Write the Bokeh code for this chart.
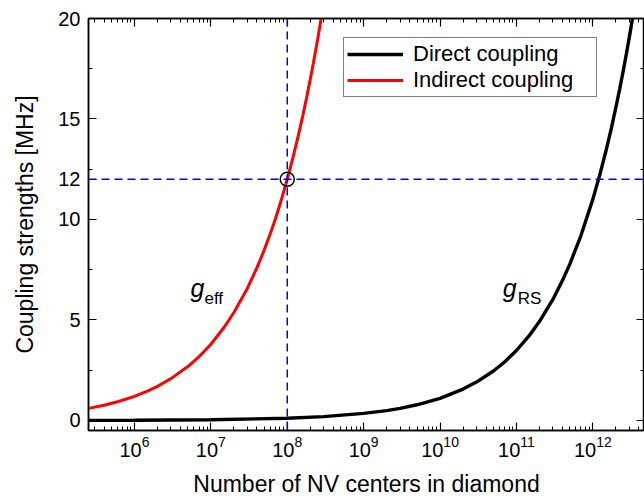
from bokeh.plotting import figure
from bokeh.models import (FixedTicker, LogAxis, LinearAxis, Span, Label, Legend, Range1d)
from bokeh.embed import file_html
from bokeh.resources import INLINE

# Direct coupling g_RS (black)
direct_n = [2.5e5, 1e6, 1e7, 1e8, 3e8, 1e9, 2e9, 3e9, 5e9, 1e10, 2e10, 3e10, 5e10, 7e10,
            1e11, 1.5e11, 2e11, 3e11, 4e11, 5e11, 7e11, 1e12, 1.25e12, 1.5e12, 1.75e12,
            2e12, 2.25e12, 2.5e12, 2.75e12, 3e12, 3.2e12, 3.4e12]
direct_g = [0.0055, 0.011, 0.035, 0.11, 0.19, 0.35, 0.49, 0.60, 0.78, 1.10, 1.56, 1.91, 2.46, 2.91,
            3.48, 4.26, 4.92, 6.02, 6.96, 7.78, 9.20, 11.0, 12.30, 13.47, 14.55,
            15.56, 16.50, 17.39, 18.24, 19.05, 19.68, 20.28]

# Indirect coupling g_eff (red)
indirect_n = [2.5e5, 4e5, 6e5, 1e6, 1.5e6, 2e6, 3e6, 5e6, 7e6, 1e7, 1.5e7, 2e7, 3e7, 4e7,
              5e7, 6e7, 7e7, 8e7, 1e8, 1.2e8, 1.4e8, 1.6e8, 1.8e8, 2e8, 2.2e8, 2.5e8, 2.8e8]
indirect_g = [0.60, 0.76, 0.93, 1.20, 1.47, 1.70, 2.08, 2.68, 3.17, 3.79, 4.65, 5.37, 6.57, 7.59,
              8.49, 9.30, 10.04, 10.73, 12.0, 13.15, 14.20, 15.18, 16.10, 16.97, 17.80, 18.97, 20.08]

# Marked operating point
point_n = [1e8]
point_g = [12.0]

y_ticks = [0, 5, 10, 12, 15, 20]
y_minor = [2.5, 7.5, 12.5, 17.5]

FONT = "Liberation Sans"

p = figure(width=644, height=500, x_axis_type="log",
           x_range=Range1d(2.5e5, 4.75e12), y_range=Range1d(-0.5, 20),
           output_backend="svg", toolbar_location=None,
           min_border_left=88, min_border_right=0, min_border_top=18, min_border_bottom=70)
p.xgrid.visible = False
p.ygrid.visible = False
p.outline_line_color = "black"
p.outline_line_width = 1.5
p.background_fill_color = "white"
p.border_fill_color = "white"

xt = FixedTicker(ticks=[10.0 ** k for k in range(5, 14)],
                 minor_ticks=[m * 10.0 ** k for k in range(5, 13) for m in range(2, 10)])
yt = FixedTicker(ticks=y_ticks, minor_ticks=y_minor)

def style_axis(ax):
    ax.axis_line_color = "black"
    ax.axis_line_width = 1.5
    ax.major_tick_in = 8
    ax.major_tick_out = 0
    ax.minor_tick_in = 4
    ax.minor_tick_out = 0
    ax.major_tick_line_width = 1.2
    ax.minor_tick_line_width = 1
    ax.major_tick_line_color = "black"
    ax.minor_tick_line_color = "black"

xa = p.xaxis[0]
xa.ticker = xt
style_axis(xa)
xa.major_label_text_font = FONT
xa.major_label_text_font_size = "20px"
xa.major_label_text_color = "black"
xa.major_label_standoff = 5
xa.axis_label = "Number of NV centers in diamond"
xa.axis_label_text_font = FONT
xa.axis_label_text_font_size = "23px"
xa.axis_label_text_font_style = "normal"
xa.axis_label_text_color = "black"
xa.axis_label_standoff = 11

ya = p.yaxis[0]
ya.ticker = yt
style_axis(ya)
ya.major_label_text_font = FONT
ya.major_label_text_font_size = "20px"
ya.major_label_text_color = "black"
ya.major_label_standoff = 8
ya.axis_label = "Coupling strengths [MHz]"
ya.axis_label_text_font = FONT
ya.axis_label_text_font_size = "23px"
ya.axis_label_text_font_style = "normal"
ya.axis_label_text_color = "black"
ya.axis_label_standoff = 17

top = LogAxis(ticker=xt)
style_axis(top)
top.major_label_text_font_size = "1px"
top.major_label_text_alpha = 0
top.major_label_standoff = 0
p.add_layout(top, "above")

right = LinearAxis(ticker=yt)
style_axis(right)
right.major_label_text_font_size = "1px"
right.major_label_text_alpha = 0
right.major_label_standoff = 0
p.add_layout(right, "right")

r_direct = p.line(direct_n, direct_g, line_color="black", line_width=3.4)
r_indirect = p.line(indirect_n, indirect_g, line_color="#ff0000", line_width=3)

p.add_layout(Span(location=1e8, dimension="height", line_color="#0000ff",
                  line_dash="8 5", line_width=1.5))
p.add_layout(Span(location=12, dimension="width", line_color="#0000ff",
                  line_dash="8 5", line_width=1.5))

p.scatter(point_n, point_g, marker="circle", size=14, fill_alpha=0,
          line_color="black", line_width=1.5)

# curve annotations
p.add_layout(Label(x=5.4e6, y=6.57, text="g", text_font=FONT, text_font_size="25px",
                   text_font_style="italic", text_baseline="alphabetic", text_color="black"))
p.add_layout(Label(x=5.4e6, y=6.07, text="eff", x_offset=14, text_font=FONT,
                   text_font_size="17px", text_baseline="alphabetic", text_color="black"))
p.add_layout(Label(x=6.6e10, y=6.57, text="g", text_font=FONT, text_font_size="25px",
                   text_font_style="italic", text_baseline="alphabetic", text_color="black"))
p.add_layout(Label(x=6.6e10, y=6.07, text="RS", x_offset=15, text_font=FONT,
                   text_font_size="17px", text_baseline="alphabetic", text_color="black"))

legend = Legend(items=[("Direct coupling", [r_direct]), ("Indirect coupling", [r_indirect])],
                location=(255, 333))
legend.label_text_font = FONT
legend.label_text_font_size = "22px"
legend.label_text_color = "black"
legend.glyph_width = 56
legend.glyph_height = 22
legend.label_height = 22
legend.label_width = 180
legend.label_standoff = 10
legend.padding = 3
legend.spacing = 0
legend.margin = 0
legend.border_line_color = "black"
legend.border_line_width = 1
legend.background_fill_alpha = 1
p.add_layout(legend)

open("out.html", "w").write(file_html(p, INLINE))
